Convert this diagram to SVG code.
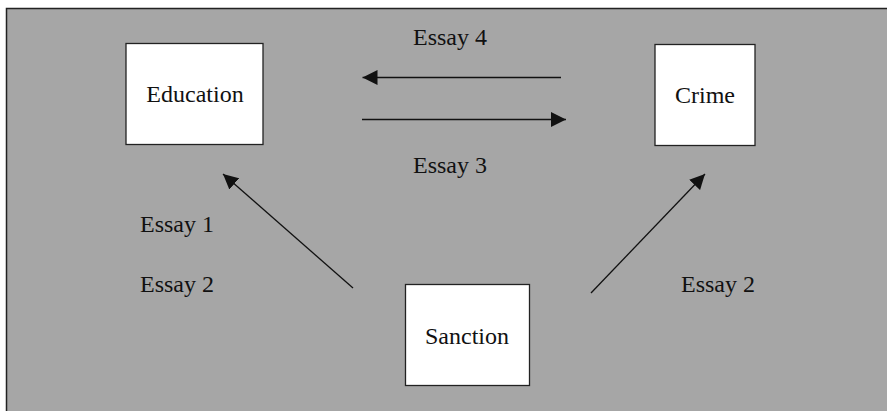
<svg xmlns="http://www.w3.org/2000/svg" width="887" height="411" viewBox="0 0 887 411">
<style>
.node rect{fill:#fff;stroke:#222;stroke-width:1.3}
text{font-family:"Liberation Serif","Times New Roman",serif;font-size:24px;fill:#111}
.c{text-anchor:middle}
.conn line{stroke:#111;stroke-width:1.3;marker-end:url(#ah)}
</style>
<defs>
<marker id="ah" viewBox="0 0 15 15" refX="15" refY="7.5" markerWidth="15" markerHeight="15" markerUnits="userSpaceOnUse" orient="auto">
<path d="M0,0 L15,7.5 L0,15 Z" fill="#111"/>
</marker>
</defs>
<rect x="0" y="0" width="887" height="411" fill="#fff"/>
<rect x="6.5" y="8.5" width="890" height="410" fill="#a6a6a6" stroke="#222" stroke-width="1.5"/>
<g id="education" class="node"><rect x="126" y="43.5" width="137" height="101"/><text class="c" x="195" y="102">Education</text></g>
<g id="crime" class="node"><rect x="655" y="44.5" width="100" height="101"/><text class="c" x="705" y="103">Crime</text></g>
<g id="sanction" class="node"><rect x="405.5" y="284.5" width="124" height="101"/><text class="c" x="467" y="344">Sanction</text></g>
<g id="connectors" class="conn">
<line x1="561" y1="77.5" x2="362.5" y2="77.5"/>
<line x1="362" y1="119.5" x2="566" y2="119.5"/>
<line x1="353" y1="288" x2="223" y2="174"/>
<line x1="591" y1="293" x2="705" y2="174"/>
</g>
<g id="labels">
<text x="413" y="45">Essay 4</text>
<text x="413" y="173">Essay 3</text>
<text x="140" y="232">Essay 1</text>
<text x="140" y="292">Essay 2</text>
<text x="681" y="292">Essay 2</text>
</g>
</svg>
